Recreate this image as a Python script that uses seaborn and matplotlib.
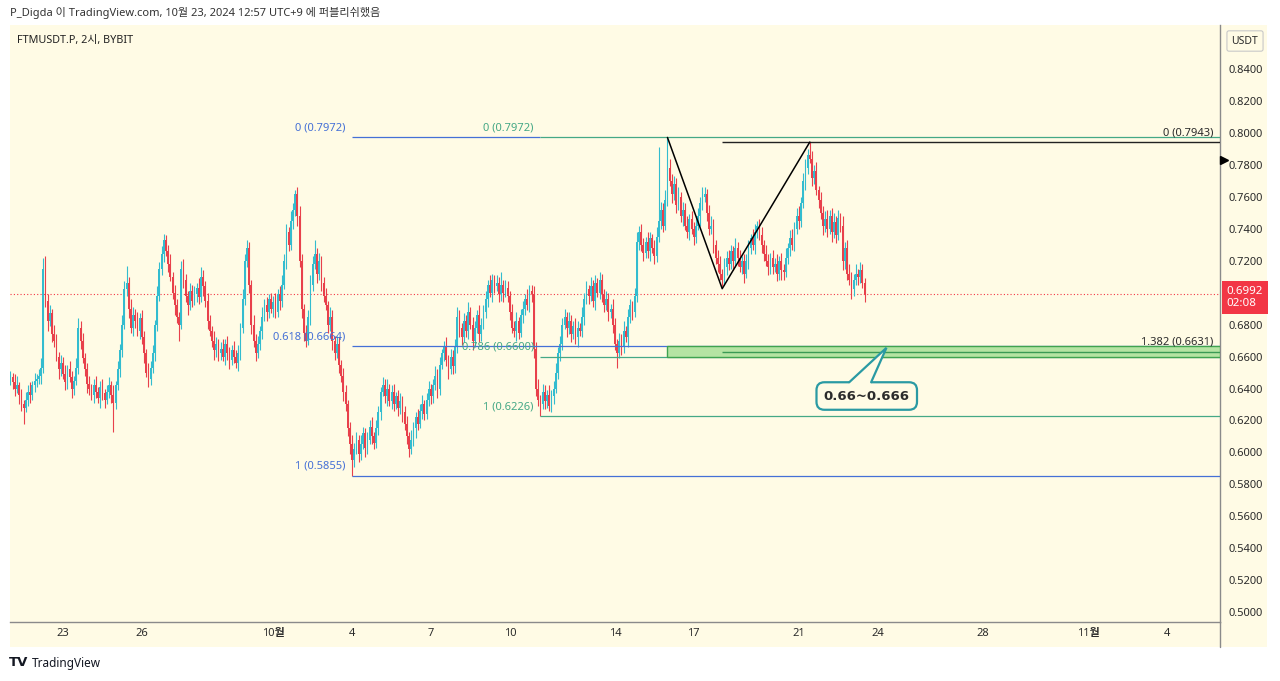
import numpy as np
import matplotlib
matplotlib.use("Agg")
import matplotlib.pyplot as plt
import matplotlib.transforms as mtransforms
from matplotlib.patches import Rectangle, Polygon
from matplotlib.lines import Line2D
import seaborn as sns

# FTMUSDT.P 2h candles from Sep 21 00:00, one row = one day (12 candles)
# prices in 1/10000 USDT; open of each candle = previous close
first_open = 6450
closes = [
    6470, 6440, 6400, 6420, 6360, 6300, 6280, 6330, 6380, 6360, 6420, 6450,
    6460, 6480, 6530, 7150, 6950, 6820, 6870, 6740, 6700, 6600, 6520, 6560,
    6490, 6440, 6520, 6470, 6400, 6450, 6530, 6780, 6700, 6590, 6520, 6430,
    6400, 6360, 6420, 6380, 6340, 6410, 6370, 6330, 6380, 6420, 6360, 6310,
    6420, 6520, 6640, 6800, 7020, 7060, 6900, 6780, 6860, 6820, 6760, 6840,
    6720, 6620, 6500, 6460, 6530, 6620, 6800, 6980, 7150, 7240, 7330, 7260,
    7180, 7100, 7000, 6920, 6850, 6800, 7150, 7080, 6980, 6920, 7010, 6950,
    6990, 7030, 6970, 7100, 7040, 6950, 6820, 6760, 6700, 6640, 6680, 6620,
    6650, 6600, 6680, 6620, 6580, 6640, 6600, 6560, 6620, 6780, 6960, 7200,
    7280, 7050, 6800, 6700, 6620, 6680, 6760, 6850, 6920, 6880, 6960, 6900,
    6940, 6880, 6990, 6950, 7050, 7200, 7380, 7300, 7450, 7520, 7620, 7480,
    7200, 6900, 6750, 6700, 6850, 7050, 7180, 7240, 7120, 7200, 7060, 6980,
    6920, 6800, 6850, 6700, 6620, 6680, 6550, 6480, 6380, 6300, 6150, 6050,
    5950, 6020, 6080, 5990, 6050, 6120, 6030, 6080, 6160, 6100, 6060, 6150,
    6250, 6380, 6420, 6350, 6400, 6320, 6380, 6300, 6350, 6280, 6320, 6250,
    6180, 6100, 6020, 6080, 6150, 6220, 6180, 6260, 6300, 6240, 6330, 6400,
    6350, 6420, 6480, 6400, 6550, 6620, 6660, 6580, 6520, 6600, 6540, 6660,
    6850, 6780, 6720, 6820, 6760, 6880, 6800, 6700, 6780, 6860, 6740, 6800,
    6880, 6960, 7050, 7000, 7080, 7040, 7060, 6990, 7050, 7000, 7030, 6980,
    6880, 6780, 6760, 6820, 6750, 6860, 6900, 6960, 6920, 7010, 6990, 6650,
    6400, 6330, 6300, 6380, 6320, 6360, 6290, 6350, 6400, 6500, 6620, 6680,
    6800, 6850, 6780, 6820, 6740, 6790, 6720, 6780, 6760, 6850, 6960, 7020,
    6980, 7040, 6950, 7060, 7000, 7080, 6990, 6920, 6960, 6880, 6900, 6800,
    6680, 6620, 6700, 6660, 6760, 6720, 6850, 6920, 6880, 6980, 7320, 7380,
    7300, 7250, 7320, 7260, 7340, 7280, 7230, 7350, 7450, 7520, 7420, 7580,
    7780, 7700, 7620, 7680, 7550, 7600, 7480, 7520, 7420, 7380, 7460, 7400,
    7350, 7420, 7480, 7560, 7600, 7620, 7500, 7400, 7420, 7300, 7220, 7180,
    7120, 7080, 7160, 7220, 7180, 7260, 7200, 7280, 7220, 7160, 7200, 7120,
    7200, 7280, 7340, 7300, 7380, 7420, 7360, 7300, 7240, 7200, 7160, 7220,
    7160, 7180, 7120, 7200, 7140, 7130, 7220, 7280, 7340, 7300, 7400, 7480,
    7450, 7560, 7700, 7780, 7860, 7840, 7720, 7760, 7640, 7580, 7500, 7420,
    7460, 7400, 7480, 7380, 7440, 7360, 7470, 7420, 7200, 7280, 7120, 7080,
    7020, 7080, 7120, 7100, 7140, 7060, 6992,
]
# wick length above max(open, close) / below min(open, close)
wick_up = [
    40, 30, 50, 60, 20, 40, 30, 50, 40, 60, 30, 50,
    30, 40, 60, 70, 80, 40, 50, 30, 60, 40, 30, 50,
    40, 60, 30, 50, 40, 30, 60, 60, 40, 50, 30, 40,
    50, 30, 40, 60, 30, 40, 50, 30, 40, 50, 30, 60,
    30, 50, 40, 60, 50, 110, 40, 60, 50, 40, 60, 30,
    50, 40, 30, 60, 40, 50, 30, 60, 40, 50, 40, 30,
    40, 60, 30, 50, 40, 30, 50, 60, 40, 30, 50, 40,
    50, 30, 60, 60, 40, 30, 50, 40, 30, 60, 40, 30,
    40, 60, 30, 50, 40, 30, 60, 40, 50, 30, 60, 40,
    50, 40, 30, 60, 40, 50, 30, 60, 40, 50, 30, 40,
    40, 60, 30, 50, 60, 40, 50, 30, 60, 40, 20, 40,
    60, 40, 30, 50, 40, 60, 50, 90, 40, 50, 30, 40,
    50, 30, 60, 40, 30, 50, 40, 30, 50, 40, 30, 40,
    60, 40, 50, 30, 60, 40, 30, 50, 40, 60, 30, 50,
    40, 30, 50, 40, 60, 30, 40, 50, 30, 40, 50, 30,
    40, 50, 30, 60, 40, 30, 50, 40, 60, 30, 40, 50,
    30, 40, 60, 40, 50, 30, 40, 60, 30, 50, 40, 50,
    60, 40, 30, 50, 40, 60, 30, 50, 40, 30, 60, 40,
    40, 50, 30, 60, 40, 30, 50, 40, 80, 30, 50, 40,
    30, 50, 40, 60, 30, 40, 50, 30, 60, 40, 40, 50,
    40, 60, 30, 50, 40, 30, 60, 40, 50, 60, 40, 50,
    40, 50, 30, 60, 40, 30, 50, 40, 30, 60, 40, 50,
    30, 60, 40, 50, 30, 50, 40, 30, 50, 40, 30, 60,
    40, 30, 50, 40, 60, 30, 50, 40, 30, 50, 60, 40,
    50, 40, 30, 60, 40, 30, 50, 60, 460, 50, 40, 60,
    192, 60, 40, 50, 40, 60, 30, 50, 40, 60, 30, 50,
    40, 60, 50, 40, 60, 40, 30, 50, 60, 40, 30, 50,
    50, 30, 60, 40, 50, 40, 30, 60, 40, 50, 30, 40,
    40, 50, 30, 60, 50, 30, 40, 50, 30, 60, 40, 30,
    50, 40, 60, 30, 50, 40, 60, 30, 50, 60, 40, 50,
    60, 40, 50, 60, 40, 83, 50, 40, 60, 30, 50, 40,
    50, 60, 40, 50, 60, 40, 50, 30, 60, 40, 50, 60,
    50, 40, 60, 30, 50, 40, 30,
]
wick_dn = [
    30, 40, 50, 30, 60, 40, 100, 30, 40, 50, 30, 40,
    40, 30, 50, 30, 40, 60, 30, 50, 40, 30, 60, 40,
    30, 50, 40, 30, 60, 40, 30, 40, 50, 30, 40, 60,
    40, 30, 50, 40, 30, 60, 40, 50, 30, 40, 50, 180,
    40, 30, 50, 40, 30, 40, 60, 30, 50, 40, 30, 50,
    40, 60, 30, 50, 40, 30, 50, 40, 30, 40, 50, 30,
    50, 30, 40, 60, 40, 100, 30, 50, 40, 60, 30, 40,
    30, 50, 40, 30, 60, 40, 50, 30, 40, 60, 40, 50,
    40, 30, 50, 40, 60, 30, 40, 30, 50, 40, 30, 40,
    40, 50, 60, 40, 50, 30, 40, 50, 30, 60, 40, 30,
    50, 40, 30, 60, 40, 30, 50, 40, 30, 50, 40, 60,
    40, 60, 50, 40, 30, 50, 40, 30, 60, 40, 50, 40,
    30, 50, 40, 60, 40, 30, 50, 40, 60, 40, 50, 60,
    95, 40, 30, 50, 40, 30, 60, 40, 30, 50, 40, 30,
    40, 50, 30, 40, 60, 30, 50, 40, 30, 50, 40, 60,
    40, 50, 50, 30, 40, 60, 40, 30, 50, 40, 30, 40,
    50, 40, 30, 60, 40, 30, 50, 40, 60, 30, 50, 40,
    40, 60, 50, 30, 40, 50, 30, 60, 40, 30, 50, 40,
    30, 40, 50, 30, 60, 40, 30, 50, 40, 60, 30, 40,
    50, 30, 40, 60, 40, 30, 50, 40, 30, 40, 50, 60,
    50, 40, 74, 30, 50, 40, 30, 40, 50, 30, 40, 50,
    40, 30, 60, 40, 50, 30, 40, 60, 30, 40, 50, 30,
    50, 30, 40, 60, 30, 40, 50, 40, 30, 60, 40, 50,
    40, 90, 30, 50, 40, 30, 60, 40, 50, 30, 40, 50,
    40, 50, 30, 40, 60, 30, 50, 40, 30, 50, 40, 30,
    40, 30, 60, 40, 50, 30, 40, 60, 30, 40, 50, 30,
    50, 40, 30, 60, 40, 30, 50, 40, 30, 50, 40, 50,
    40, 40, 30, 50, 40, 30, 60, 40, 50, 30, 40, 60,
    30, 50, 40, 30, 60, 40, 30, 50, 40, 30, 50, 40,
    40, 30, 50, 40, 60, 50, 30, 40, 50, 30, 40, 30,
    50, 40, 30, 60, 40, 30, 50, 40, 30, 50, 40, 60,
    40, 50, 30, 60, 40, 50, 30, 40, 60, 50, 40, 30,
    60, 40, 30, 50, 40, 30, 52,
]

bars_per_day = 12
day_ticks = [2, 5, 10, 13, 16, 19, 23, 26, 30, 33, 37, 41, 44]
day_labels = ["23", "26", "10월", "4", "7", "10", "14", "17", "21", "24", "28", "11월", "4"]
bold_labels = ["10월", "11월"]
price_ticks = [0.50, 0.52, 0.54, 0.56, 0.58, 0.60, 0.62, 0.64, 0.66,
               0.68, 0.70, 0.72, 0.74, 0.76, 0.78, 0.80, 0.82, 0.84]

# drawings (bar index, price)
blue_fib_start = 156
blue_fib = [("0", 0.7972), ("0.618", 0.6664), ("1", 0.5855)]
green_fib_start = 242
green_fib = [("0", 0.7972), ("0.786", 0.6600), ("1", 0.6226)]
zigzag_x = [300, 325, 365]
zigzag_y = [0.7972, 0.7025, 0.7943]
trend_fib_start = 325
trend_fib = [("0", 0.7943), ("1.382", 0.6631)]
zone_start = 300
zone_lo, zone_hi = 0.6600, 0.6664
callout_text = "0.66~0.666"
callout_at = (391, 0.6353)
callout_tip = (400, 0.6655)
callout_base = (383, 393)
last_price = 0.6992
countdown = "02:08"
alert_price = 0.7830

UP = "#33bccf"
DOWN = "#e8404b"
CREAM = "#fffbe5"
BLUE = "#4570d6"
GREEN = "#45a886"
TEAL = "#2a9aa3"
TXT = "#2b2b2b"

sns.set_theme(style="white")
plt.rcParams["font.family"] = ["Noto Sans", "Noto Sans CJK KR", "DejaVu Sans"]

W, H = 1280, 681
fig = plt.figure(figsize=(W / 100, H / 100), dpi=100)
fig.patch.set_facecolor("white")
fig.add_artist(Rectangle((10 / W, 1 - 647 / H), 1257 / W, 622 / H,
                         transform=fig.transFigure, fc=CREAM, ec="none", zorder=-5))
fig.add_artist(Line2D([1220 / W, 1220 / W], [1 - 647 / H, 1 - 622 / H],
                      transform=fig.transFigure, color="#8a8a8a", lw=1.0))
ax = fig.add_axes([10 / W, 1 - 622 / H, 1210 / W, 597 / H])
ax.set_facecolor(CREAM)

c = np.array(closes) / 10000
o = np.concatenate([[first_open / 10000], c[:-1]])
hi = np.maximum(o, c) + np.array(wick_up) / 10000
lo = np.minimum(o, c) - np.array(wick_dn) / 10000
idx = np.arange(len(c))
col = np.where(c >= o, UP, DOWN)
ax.vlines(idx, lo, hi, colors=col, lw=0.8, zorder=3)
body = c - o
body = np.where(np.abs(body) < 0.0004, np.where(body < 0, -0.0004, 0.0004), body)
ax.bar(idx, body, bottom=o, width=0.8, color=col, linewidth=0, zorder=3)

xmax = 552.3
ax.set_xlim(-0.2, xmax)
ax.set_ylim(0.4938, 0.8676)

# current price line
ax.axhline(last_price, color="#f23645", lw=0.8, ls=(0, (1, 2)), zorder=2)

lab_kw = dict(fontsize=8, ha="right", va="bottom", zorder=6)
green_levels = [p for _, p in green_fib]
for name, p in blue_fib:
    # where the green fib repeats a level, the green line takes over
    end = green_fib_start if p in green_levels else xmax
    ax.hlines(p, blue_fib_start, end, color=BLUE, lw=0.9, zorder=4)
    ax.text(blue_fib_start - 3, p + 0.0025, f"{name} ({p:.4f})", color=BLUE, **lab_kw)
for name, p in green_fib:
    ax.hlines(p, green_fib_start, xmax, color=GREEN, lw=0.9, zorder=4)
    ax.text(green_fib_start - 3, p + 0.0025, f"{name} ({p:.4f})", color=GREEN, **lab_kw)

ax.add_patch(Rectangle((zone_start, zone_lo), xmax - zone_start, zone_hi - zone_lo,
                       fc="#b5e4a3", ec="#3fa350", lw=1.0, zorder=5))
for name, p in trend_fib:
    ax.hlines(p, trend_fib_start, xmax, color="#222222" if name == "0" else "#3a9a55",
              lw=1.0, zorder=5)
    ax.text(xmax - 3, p + 0.0025, f"{name} ({p:.4f})", color=TXT, **lab_kw)

sns.lineplot(x=zigzag_x, y=zigzag_y, ax=ax, color="black", lw=1.1, sort=False,
             estimator=None, zorder=6)

# callout box + tail
ct = ax.text(*callout_at, callout_text, ha="center", va="center", fontsize=9.5,
             fontweight="bold", family="DejaVu Sans", color=TXT, zorder=7,
             bbox=dict(boxstyle="round,pad=0.55,rounding_size=0.6", fc=CREAM, ec=TEAL, lw=1.6))
fig.canvas.draw()
bb = ct.get_bbox_patch().get_window_extent(fig.canvas.get_renderer())
top = ax.transData.inverted().transform((0, bb.y1))[1]
inner = ax.transData.inverted().transform((0, bb.y1 - 6))[1]
bl, br = callout_base
ax.add_patch(Polygon([(bl, inner), (bl, top), callout_tip, (br, top), (br, inner)],
                     closed=True, fc=CREAM, ec="none", zorder=8))
ax.plot([bl, callout_tip[0], br], [top, callout_tip[1], top], color=TEAL, lw=1.6,
        solid_joinstyle="miter", zorder=9)

# axes
for s in ["top", "left"]:
    ax.spines[s].set_visible(False)
for s in ["right", "bottom"]:
    ax.spines[s].set_color("#8a8a8a")
    ax.spines[s].set_linewidth(1.0)
ax.yaxis.tick_right()
ax.set_yticks(price_ticks)
# the tick under the last-price tag is hidden by the tag
ax.set_yticklabels(["" if abs(p - last_price) < 0.005 else f"{p:.4f}" for p in price_ticks])
ax.set_xticks([d * bars_per_day for d in day_ticks])
ax.set_xticklabels(day_labels)
ax.tick_params(axis="y", length=0, pad=6, labelsize=8, labelcolor=TXT)
ax.tick_params(axis="x", length=0, pad=4, labelsize=8, labelcolor=TXT)
for t in ax.get_xticklabels():
    if t.get_text() in bold_labels:
        t.set_fontweight("bold")
ax.grid(False)

# right-axis price tag and alert marker
blend = mtransforms.blended_transform_factory(ax.transAxes, ax.transData)
ax.text(1.0055, last_price - 0.0022, f"{last_price:.4f}\n{countdown}", transform=blend,
        ha="left", va="center", fontsize=8.3, color="white", linespacing=1.1,
        bbox=dict(boxstyle="square,pad=0.42", fc="#f23645", ec="none"), clip_on=False)
ax.plot([1.003], [alert_price], transform=blend, marker=">", ms=6, color="black",
        clip_on=False, zorder=8)

fig.text(1245 / W, 1 - 41 / H, "USDT", ha="center", va="center", fontsize=7.5, color=TXT,
         bbox=dict(boxstyle="round,pad=0.45,rounding_size=0.2", fc=CREAM, ec="#c8c8c8", lw=0.8))

fig.text(10 / W, 1 - 13 / H, "P_Digda 이 TradingView.com, 10월 23, 2024 12:57 UTC+9 에 퍼블리쉬했음",
         ha="left", va="center", fontsize=8.0, color="#333333")
fig.text(17 / W, 1 - 40 / H, "FTMUSDT.P, 2시, BYBIT", ha="left", va="center",
         fontsize=7.8, color="#222222")
fig.text(9 / W, 1 - 663 / H, "TV", ha="left", va="center", fontsize=9.5,
         fontweight="bold", family="DejaVu Sans", color="#131722")
fig.text(32 / W, 1 - 663 / H, "TradingView", ha="left", va="center", fontsize=8.5,
         color="#131722")

fig.savefig("out.png", dpi=100, facecolor=fig.get_facecolor())
